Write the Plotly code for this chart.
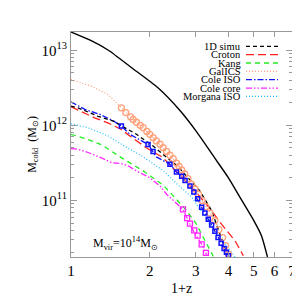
import plotly.graph_objects as go
import numpy as np

# ---------------- data ----------------
# 1D simu (black dashed)
simu_z = [1.0, 1.064, 1.27, 1.45, 1.78, 2.06, 2.57, 2.85, 3.11, 3.45, 3.77, 3.89]
simu_m = [1.80e12, 1.71e12, 1.32e12, 1.14e12, 7.6e11, 5.3e11, 2.8e11, 1.9e11, 1.34e11, 7.3e10, 3.05e10, 2.0e10]

# Croton (red long dash)
croton_z = [1.0, 1.23, 1.39, 1.558, 1.68, 1.94, 2.25, 2.45, 3.0, 3.4, 3.77, 4.24, 4.56]
croton_m = [1.77e12, 1.26e12, 1.07e12, 8.8e11, 7.2e11, 5.04e11, 3.71e11, 2.74e11, 1.3e11, 7.8e10, 4.8e10, 2.9e10, 1.84e10]

# Kang (green dashed)
kang_z = [1.0, 1.16, 1.31, 1.43, 1.58, 1.89, 2.25, 2.46, 2.75, 3.0, 3.2, 3.5]
kang_m = [7.6e11, 6.5e11, 5.5e11, 4.5e11, 3.6e11, 2.47e11, 1.6e11, 1.15e11, 7.5e10, 5.0e10, 3.3e10, 1.8e10]

# GalICS (salmon dotted line + open circles)
galics_z = [1.0, 1.196, 1.386, 1.51, 1.558, 1.728, 1.888, 2.06, 2.25, 2.46, 2.65, 2.89, 3.07, 3.55, 4.0]
galics_m = [4.07e12, 3.33e12, 2.57e12, 1.9e12, 1.71e12, 1.2e12, 9.3e11, 6.85e11, 5.04e11, 3.6e11, 2.55e11, 1.64e11, 1.21e11, 5.4e10, 1.93e10]
galics_pts_z = [1.558, 1.62, 1.69, 1.728, 1.78, 1.84, 1.888, 1.95, 2.0, 2.06, 2.12, 2.19, 2.25, 2.32,
                2.39, 2.46, 2.53, 2.59, 2.65, 2.72, 2.8, 2.89, 2.98, 3.07, 3.17, 3.28, 3.4, 3.55,
                3.68, 3.8, 3.9, 4.0]
galics_pts_m = [1.71e12, 1.48e12, 1.3e12, 1.2e12, 1.1e12, 1.0e12, 9.3e11, 8.3e11, 7.6e11, 6.85e11,
                6.2e11, 5.6e11, 5.04e11, 4.5e11, 4.0e11, 3.6e11, 3.15e11, 2.85e11, 2.55e11, 2.25e11,
                1.95e11, 1.64e11, 1.42e11, 1.21e11, 1.0e11, 8.3e10, 6.8e10, 5.4e10, 4.1e10, 3.2e10,
                2.5e10, 1.93e10]

# Cole ISO (blue dash-dot + open squares)
coleiso_z = [1.0, 1.13, 1.29, 1.45, 1.558, 1.68, 1.97, 2.06, 2.12, 2.39, 2.53, 2.65, 2.73, 2.85, 3.16, 3.55, 4.0]
coleiso_m = [2.05e12, 1.63e12, 1.40e12, 1.15e12, 9.8e11, 7.6e11, 5.58e11, 4.5e11, 3.8e11, 3.03e11, 2.4e11, 2.1e11, 1.85e11, 1.56e11, 8.1e10, 3.9e10, 1.84e10]
coleiso_pts_z = [1.558, 1.97, 2.06, 2.39, 2.53, 2.65, 2.73, 2.85, 2.95, 3.05, 3.16, 3.25, 3.35, 3.45, 3.55, 3.65, 3.75, 3.85, 3.93, 4.0]
coleiso_pts_m = [9.8e11, 5.58e11, 4.5e11, 3.03e11, 2.4e11, 2.1e11, 1.85e11, 1.56e11, 1.3e11, 1.05e11, 8.1e10, 6.8e10, 5.6e10, 4.7e10, 3.9e10, 3.2e10, 2.7e10, 2.3e10, 2.05e10, 1.84e10]

# Cole core (magenta dash-dot-dot + open squares)
colecore_z = [1.0, 1.064, 1.162, 1.306, 1.427, 1.56, 1.65, 1.78, 2.0, 2.19, 2.32, 2.5, 2.68, 2.85, 2.98, 3.16, 3.30]
colecore_m = [4.9e11, 4.8e11, 4.35e11, 3.7e11, 3.19e11, 3.09e11, 2.9e11, 2.47e11, 2.01e11, 1.56e11, 1.21e11, 9.5e10, 7.6e10, 4.83e10, 3.56e10, 2.62e10, 1.9e10]
colecore_pts_z = [2.68, 2.78, 2.85, 2.96, 3.05, 3.16, 3.28]
colecore_pts_m = [7.6e10, 5.8e10, 4.9e10, 4.0e10, 3.4e10, 2.6e10, 2.0e10]

# Morgana ISO (deep sky blue dotted)
morgana_z = [1.0, 1.16, 1.39, 1.6, 1.89, 2.25, 2.57, 2.9, 3.35, 3.88, 4.24]
morgana_m = [1.05e12, 9.3e11, 7.2e11, 5.3e11, 3.8e11, 2.5e11, 1.6e11, 1.1e11, 5.2e10, 2.6e10, 1.77e10]

# Total (black solid)
total_z = [1.0, 1.2, 1.39, 1.7, 2.15, 2.6, 3.0, 3.56, 4.0, 4.5, 5.0, 5.35, 5.64]
total_m = [1.75e13, 1.33e13, 1.0e13, 5.9e12, 3.16e12, 1.6e12, 8.5e11, 3.6e11, 2.0e11, 1.0e11, 5.4e10, 3.4e10, 1.77e10]

x_ticks = [1, 2, 3, 4, 5, 6, 7]
y_ticks = [1e11, 1e12, 1e13]
y_ticktext = ["10<sup>11</sup>", "10<sup>12</sup>", "10<sup>13</sup>"]

legend_names = ["1D simu", "Croton", "Kang", "GalICS", "Cole ISO", "Cole core", "Morgana ISO"]

# ---------------- styles ----------------
FONT = "Liberation Serif"
styles = {
    "1D simu": dict(color="black", dash="4px,3px", width=1.3),
    "Croton": dict(color="#ff2020", dash="8px,4px", width=1.3),
    "Kang": dict(color="#22ee22", dash="5px,4px", width=1.3),
    "GalICS": dict(color="#ffa07a", dash="1px,2px", width=1.2),
    "Cole ISO": dict(color="#1010ff", dash="6px,2px,1.5px,2px", width=1.3),
    "Cole core": dict(color="#ff22ff", dash="6px,2px,1.5px,2px,1.5px,2px", width=1.3),
    "Morgana ISO": dict(color="#22bbff", dash="1px,2px", width=1.2),
}

fig = go.Figure()

fig.add_trace(go.Scatter(x=total_z, y=total_m, mode="lines",
                         line=dict(color="black", width=1.4, shape="spline", smoothing=0.6), showlegend=False))

series = {
    "GalICS": (galics_z, galics_m),
    "Morgana ISO": (morgana_z, morgana_m),
    "Kang": (kang_z, kang_m),
    "Cole core": (colecore_z, colecore_m),
    "Croton": (croton_z, croton_m),
    "Cole ISO": (coleiso_z, coleiso_m),
    "1D simu": (simu_z, simu_m),
}
for name, (zz, mm) in series.items():
    fig.add_trace(go.Scatter(x=zz, y=mm, mode="lines", line=styles[name], showlegend=False))

fig.add_trace(go.Scatter(x=galics_pts_z, y=galics_pts_m, mode="markers", showlegend=False,
                         marker=dict(symbol="circle-open", size=6, color="#ffa07a", line=dict(width=1.3))))
fig.add_trace(go.Scatter(x=coleiso_pts_z, y=coleiso_pts_m, mode="markers", showlegend=False,
                         marker=dict(symbol="square-open", size=4, color="#1010ff", line=dict(width=1.5))))
fig.add_trace(go.Scatter(x=colecore_pts_z, y=colecore_pts_m, mode="markers", showlegend=False,
                         marker=dict(symbol="square-open", size=5, color="#ff22ff", line=dict(width=1.3))))

# ---------------- manual legend (text right-aligned, sample line to its right) ----------------
L, R, T, B = 63, 16, 24, 51
W, H = 300 - L - R, 300 - T - B
def px_x(p):
    return (p - L) / W
def px_y(p):
    return 1 - (p - T) / H

y0 = 38.3
dy = 8.35
for i, name in enumerate(legend_names):
    yy = y0 + i * dy
    fig.add_annotation(x=px_x(234), y=px_y(yy), xref="paper", yref="paper", text=name,
                       showarrow=False, xanchor="right", yanchor="middle", borderpad=0,
                       font=dict(family=FONT, size=10.5, color="black"))
    st = styles[name]
    fig.add_shape(type="line", xref="paper", yref="paper", x0=px_x(238), x1=px_x(270),
                  y0=px_y(yy), y1=px_y(yy), line=dict(color=st["color"], dash=st["dash"], width=st["width"]))

fig.add_annotation(x=px_x(83), y=px_y(235), xref="paper", yref="paper",
                   text="M<sub>vir</sub>=10<sup>14</sup>M<sub>\u2299</sub>", showarrow=False,
                   xanchor="left", yanchor="middle", font=dict(family=FONT, size=12, color="black"))

# x-axis title placed as annotation to sit close to the tick labels
fig.add_annotation(x=0.5, y=px_y(280), xref="paper", yref="paper", text="1+z",
                   showarrow=False, xanchor="center", yanchor="middle",
                   font=dict(family=FONT, size=14, color="black"))

minor_y = [k * 10 ** e for e in (10, 11, 12, 13) for k in range(2, 10)]
AX = "#999999"
fig.update_xaxes(type="log", range=[0, np.log10(7)], tickvals=x_ticks, ticktext=[str(v) for v in x_ticks],
                 ticks="inside", ticklen=5, tickcolor=AX, showline=True, linecolor=AX, linewidth=1.2,
                 mirror="allticks", showgrid=False, zeroline=False,
                 tickfont=dict(family=FONT, size=15, color="black"))
fig.update_yaxes(type="log", range=[10.247, 13.243], tickvals=y_ticks, ticktext=y_ticktext,
                 ticks="inside", ticklen=6, tickcolor=AX, showline=True, linecolor=AX, linewidth=1.2,
                 mirror="allticks", showgrid=False, zeroline=False,
                 minor=dict(tickvals=minor_y, ticks="inside", ticklen=3, tickcolor=AX, showgrid=False),
                 tickfont=dict(family=FONT, size=15, color="black"),
                 title=dict(text="M<sub>cold</sub>  (M<sub>\u2299</sub>)", font=dict(family=FONT, size=12, color="black"), standoff=2))

fig.update_layout(width=300, height=300, margin=dict(l=L, r=R, t=T, b=B),
                  paper_bgcolor="white", plot_bgcolor="white", showlegend=False)

fig.write_html("out.html")
